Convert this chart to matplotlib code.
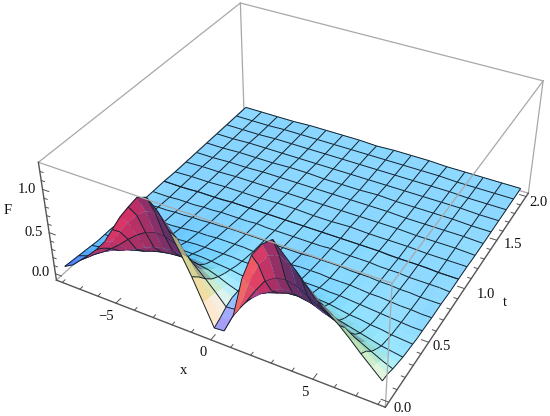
import numpy as np
import matplotlib
matplotlib.use("Agg")
import matplotlib.pyplot as plt
from mpl_toolkits.mplot3d.art3d import Poly3DCollection

plt.rcParams["font.family"] = ["Liberation Serif", "DejaVu Serif"]

x_near = [-8, -7.5, -7, -6.5, -6, -5.5, -5, -4.5, -4, -3.5, -3, -2.5, -2, -1.5, -1, -0.5, 0,
          0.5, 1, 1.5, 2, 2.5, 3, 3.5, 4, 4.5, 5, 5.5, 6, 6.5, 7, 7.5, 8]
t_near = [0, 0.0625, 0.125, 0.1875, 0.25, 0.3125, 0.375, 0.4375, 0.5, 0.625, 0.75, 0.875, 1.0]
# F, one row per t value
F_near = [
    [.07, .13, .23, .33, .44, .57, .75, .93, 1.08, 1.22, 1.26, 1.15, .97, .76, .53, .27, .01, .02, .25, .72, 1.02, 1.18, 1.27, 1.15, 1.03, .90, .77, .68, .59, .48, .36, .25, .14],
    [.06, .11, .19, .28, .38, .50, .65, .80, .92, 1.00, 1.02, .95, .82, .64, .45, .26, .05, .07, .25, .58, .84, .98, 1.02, .96, .86, .75, .65, .57, .48, .39, .30, .21, .13],
    [.05, .09, .15, .22, .30, .39, .49, .58, .65, .69, .69, .65, .57, .46, .35, .23, .10, .11, .24, .42, .58, .66, .68, .65, .59, .52, .45, .39, .33, .27, .21, .15, .10],
    [.04, .07, .11, .16, .20, .25, .30, .36, .40, .43, .44, .43, .40, .34, .27, .20, .13, .13, .21, .31, .39, .45, .46, .44, .40, .35, .31, .27, .23, .19, .15, .11, .08],
    [.03, .05, .08, .11, .14, .17, .20, .24, .27, .29, .30, .30, .28, .26, .22, .17, .13, .14, .18, .24, .28, .32, .33, .31, .29, .25, .22, .19, .16, .13, .10, .08, .06],
    [.02, .04, .06, .08, .11, .13, .15, .17, .19, .20, .21, .22, .21, .20, .18, .15, .13, .13, .16, .19, .22, .24, .24, .23, .21, .19, .16, .14, .12, .10, .08, .06, .05],
    [.02, .03, .05, .07, .09, .11, .13, .15, .17, .18, .18, .18, .17, .16, .15, .13, .12, .12, .14, .16, .17, .18, .18, .17, .16, .14, .12, .11, .09, .08, .06, .05, .04],
    [.02, .03, .04, .05, .07, .08, .10, .11, .13, .14, .14, .14, .14, .13, .12, .11, .11, .11, .12, .13, .14, .14, .14, .13, .12, .11, .10, .08, .07, .06, .05, .04, .03],
    [.01, .02, .03, .04, .05, .06, .08, .09, .10, .11, .11, .11, .11, .11, .10, .10, .09, .09, .10, .11, .11, .11, .11, .10, .10, .09, .08, .07, .06, .05, .04, .03, .03],
    [.01, .02, .02, .03, .04, .04, .05, .06, .07, .07, .08, .08, .08, .08, .07, .07, .07, .07, .07, .08, .08, .08, .07, .07, .07, .06, .05, .05, .04, .03, .03, .02, .02],
    [.01, .01, .02, .02, .03, .03, .04, .04, .05, .05, .06, .06, .06, .06, .06, .05, .05, .05, .05, .06, .06, .06, .06, .05, .05, .05, .04, .04, .03, .03, .02, .02, .02],
    [.01, .01, .01, .02, .02, .02, .03, .03, .04, .04, .04, .04, .05, .04, .04, .04, .04, .04, .04, .04, .05, .04, .04, .04, .04, .03, .03, .03, .02, .02, .02, .02, .01],
    [.01, .01, .01, .01, .02, .02, .02, .02, .03, .03, .03, .03, .03, .03, .03, .03, .03, .03, .03, .03, .03, .03, .03, .03, .03, .02, .02, .02, .02, .02, .01, .01, .01],
]

x_far = [-8, -7, -6, -5, -4, -3, -2, -1, 0, 1, 2, 3, 4, 5, 6, 7, 8]
t_far = [1.0, 1.125, 1.25, 1.375, 1.5, 1.625, 1.75, 1.875, 2.0]
F_far = [
    [.01, .01, .02, .02, .03, .03, .03, .03, .03, .03, .03, .03, .03, .02, .02, .01, .01],
    [.00, .01, .01, .02, .02, .02, .03, .03, .02, .02, .03, .02, .02, .02, .01, .01, .01],
    [.00, .01, .01, .02, .02, .02, .02, .02, .02, .02, .02, .02, .02, .01, .01, .01, .00],
    [.00, .00, .01, .01, .02, .02, .02, .02, .02, .02, .02, .02, .01, .01, .01, .01, .00],
    [.00, .00, .01, .01, .01, .02, .02, .01, .01, .01, .02, .01, .01, .01, .01, .00, .00],
    [.00, .00, .01, .01, .01, .01, .01, .01, .01, .01, .01, .01, .01, .01, .01, .00, .00],
    [.00, .00, .00, .01, .01, .01, .01, .01, .01, .01, .01, .01, .01, .01, .00, .00, .00],
    [.00, .00, .00, .01, .01, .01, .01, .01, .01, .01, .01, .01, .01, .00, .00, .00, .00],
    [.00, .00, .00, .00, .01, .01, .01, .01, .00, .01, .01, .01, .00, .00, .00, .00, .00],
]

x_ticks = [-5, 0, 5]
x_minor = [-8, -7, -6, -4, -3, -2, -1, 1, 2, 3, 4, 6, 7, 8]
t_ticks = [0.0, 0.5, 1.0, 1.5, 2.0]
t_minor = [0.1, 0.2, 0.3, 0.4, 0.6, 0.7, 0.8, 0.9, 1.1, 1.2, 1.3, 1.4, 1.6, 1.7, 1.8, 1.9]
z_ticks = [0.0, 0.5, 1.0]
z_minor = [0.1, 0.2, 0.3, 0.4, 0.6, 0.7, 0.8, 0.9, 1.1, 1.2]

X_RANGE = (-8.33, 8.33)
T_RANGE = (-0.04, 2.04)
Z_RANGE = (-0.08, 1.30)

ELEV, AZIM, FOCAL = 35.42, -61.47, 0.441
RY, RZ = 1.006, 0.394
SCALE, CX, CY = 2765.9, 303.47, 237.0
W, H = 550, 416
MESH_COL = (.08, .13, .17, 1)

fig = plt.figure(figsize=(5.5, 4.16), dpi=100)
ax = fig.add_axes([(CX - 0.095 * SCALE) / W, (CY - 0.095 * SCALE) / H, 0.185 * SCALE / W, 0.185 * SCALE / H],
                  projection="3d", computed_zorder=False)
ax.set_xlim(*X_RANGE, view_margin=0)
ax.set_ylim(*T_RANGE, view_margin=0)
ax.set_zlim(*Z_RANGE, view_margin=0)
ax.view_init(ELEV, AZIM)
ax.set_proj_type("persp", focal_length=FOCAL)
ax.set_box_aspect((1, RY, RZ))
ax.set_axis_off()
ax.get_proj()
eye = np.asarray(ax._get_camera_loc(), float)


def vertex_colors(x, t, Z):
    """Three coloured lights plus ambient, two sided, in view coordinates."""
    sx = 1 / (X_RANGE[1] - X_RANGE[0])
    sy = RY / (T_RANGE[1] - T_RANGE[0])
    sz = RZ / (Z_RANGE[1] - Z_RANGE[0])
    dzdt, dzdx = np.gradient(Z * sz, np.array(t) * sy, np.array(x) * sx)
    n = np.dstack([-dzdx, -dzdt, np.ones_like(Z)])
    n /= np.linalg.norm(n, axis=2, keepdims=True)
    el, az = np.radians(ELEV), np.radians(AZIM)
    right = np.array([-np.sin(az), np.cos(az), 0])
    up = np.array([-np.sin(el) * np.cos(az), -np.sin(el) * np.sin(az), np.cos(el)])
    view = np.array([np.cos(el) * np.cos(az), np.cos(el) * np.sin(az), np.sin(el)])
    nv = np.dstack([n @ right, n @ up, n @ view])
    nv[nv[..., 2] < 0] *= -1
    lights = np.array([[1.5, -.5, 2], [1.5, 1.5, 2], [-.5, 1.5, 2]], float)
    lights /= np.linalg.norm(lights, axis=1, keepdims=True)
    amb = np.array([.312, .188, .4])
    rgb = np.zeros(nv.shape)
    for c in range(3):
        rgb[..., c] = amb[c] + .8 * np.clip(nv @ lights[c], 0, None)
    return np.clip(rgb, 0, 1)


def build_patches(x, t, Z):
    """Filled cells and, as flat polygons, the mesh lines nudged towards the eye."""
    Z = np.array(Z, float)
    rgb = vertex_colors(x, t, Z)
    quads, cols, lines = [], [], []
    for i in range(len(t) - 1):
        for j in range(len(x) - 1):
            quads.append([(x[j], t[i], Z[i, j]), (x[j + 1], t[i], Z[i, j + 1]),
                          (x[j + 1], t[i + 1], Z[i + 1, j + 1]), (x[j], t[i + 1], Z[i + 1, j])])
            c = (rgb[i, j] + rgb[i, j + 1] + rgb[i + 1, j] + rgb[i + 1, j + 1]) / 4
            cols.append((*c, 1))

    def nudge(p):
        p = np.array(p, float)
        return p + .01 * (eye - p)

    for i, tv in enumerate(t):
        if abs(tv * 8 - round(tv * 8)) < 1e-9:
            for j in range(len(x) - 1):
                a, b = nudge((x[j], tv, Z[i, j])), nudge((x[j + 1], tv, Z[i, j + 1]))
                lines.append([a, b, b, a])
    for j, xv in enumerate(x):
        if abs(xv - round(xv)) < 1e-9:
            for i in range(len(t) - 1):
                a, b = nudge((xv, t[i], Z[i, j])), nudge((xv, t[i + 1], Z[i + 1, j]))
                lines.append([a, b, b, a])
    return quads, cols, lines


def seg(a, b, col="#a8a8a8", lw=.9, z=1):
    ax.plot([a[0], b[0]], [a[1], b[1]], [a[2], b[2]], color=col, lw=lw, zorder=z, clip_on=False)


x0, x1 = X_RANGE
t0, t1 = T_RANGE
z0, z1 = Z_RANGE
seg((x0, t1, z0), (x0, t1, z1))
seg((x0, t1, z1), (x1, t1, z1))
seg((x0, t0, z1), (x0, t1, z1))
seg((x1, t1, z0), (x1, t1, z1))
seg((x0, t1, z0), (x1, t1, z0))
seg((x0, t0, z0), (x0, t1, z0))

q1, c1, l1 = build_patches(x_near, t_near, F_near)
q2, c2, l2 = build_patches(x_far, t_far, F_far)
quads = q1 + q2
cols = c1 + c2
lines = l1 + l2

# same cells with a thin edge underneath, hides the seams of the top layer
under = Poly3DCollection(quads, facecolors=cols, edgecolors=cols, linewidths=.5, zorder=2)
ax.add_collection3d(under)
top = Poly3DCollection(quads + lines,
                       facecolors=cols + [(0, 0, 0, 0)] * len(lines),
                       edgecolors=[(0, 0, 0, 0)] * len(quads) + [MESH_COL] * len(lines),
                       linewidths=.7, zorder=2.1)
ax.add_collection3d(top)
ax.set_xlim(*X_RANGE, view_margin=0)
ax.set_ylim(*T_RANGE, view_margin=0)
ax.set_zlim(*Z_RANGE, view_margin=0)

seg((x0, t0, z1), (x1, t0, z1), z=3)
seg((x1, t0, z1), (x1, t1, z1), z=3)
seg((x1, t0, z0), (x1, t0, z1), z=3)
AXC = "#555555"
seg((x0, t0, z0), (x1, t0, z0), AXC, 1.0, 3)
seg((x1, t0, z0), (x1, t1, z0), AXC, 1.0, 3)
seg((x0, t0, z0), (x0, t0, z1), AXC, 1.0, 3)

for v, ln in [(v, .045) for v in x_ticks] + [(v, .025) for v in x_minor]:
    seg((v, t0, z0), (v, t0 + ln, z0), AXC, .7, 3)
for v, ln in [(v, .34) for v in t_ticks] + [(v, .18) for v in t_minor]:
    seg((x1, v, z0), (x1 - ln, v, z0), AXC, .7, 3)
for v, ln in [(v, .34) for v in z_ticks] + [(v, .18) for v in z_minor]:
    seg((x0, t0, v), (x0 + ln, t0, v), AXC, .7, 3)

labels = [("\u22125", 106, 316), ("0", 203, 353), ("5", 305, 392),
          ("0.0", 41, 272), ("0.5", 34, 232), ("1.0", 27, 190),
          ("0.0", 403, 408), ("0.5", 442, 347), ("1.0", 486, 294), ("1.5", 513, 245), ("2.0", 538, 202),
          ("F", 8, 210), ("x", 184, 370), ("t", 505, 303)]
for s, px, py in labels:
    fig.text(px / W, 1 - py / H, s, fontsize=10.5, ha="center", va="center", color="#111111")

fig.savefig("out.png", dpi=100)
